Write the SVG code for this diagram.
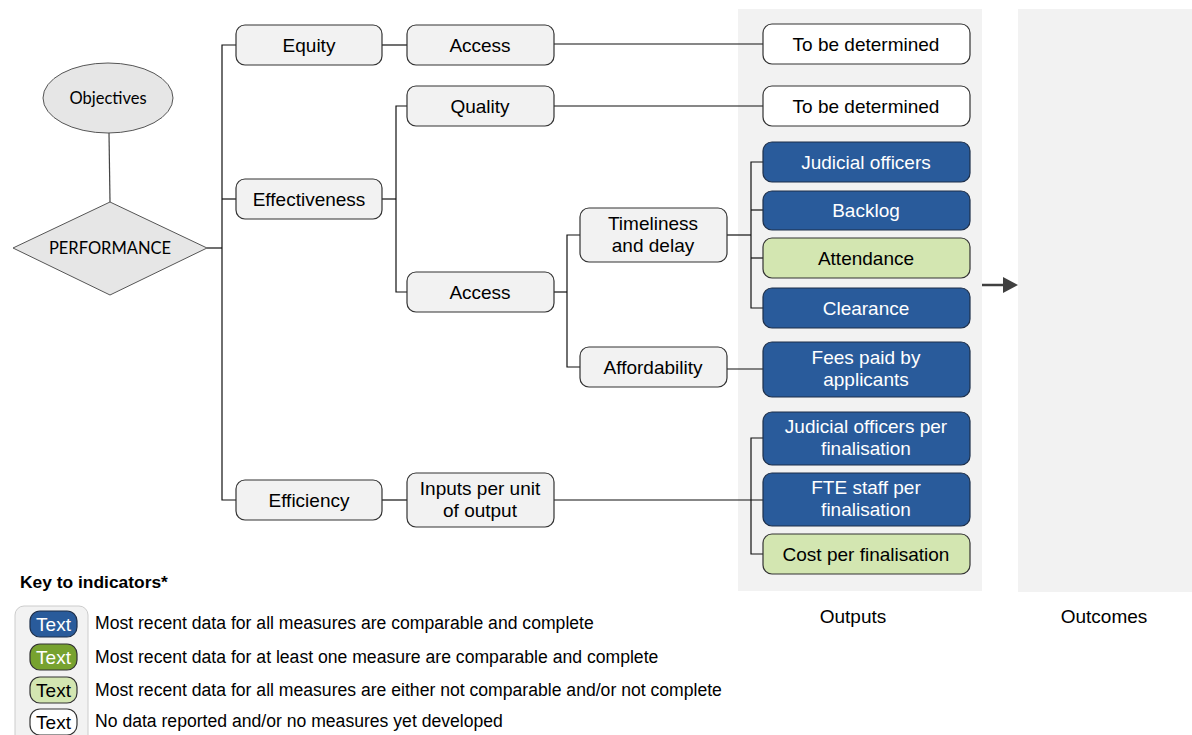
<svg xmlns="http://www.w3.org/2000/svg" width="1192" height="735" viewBox="0 0 1192 735">
<defs>
<style>
.t{font-family:"Liberation Sans",Arial,sans-serif;font-size:19px;text-anchor:middle;fill:#000}
.w{fill:#fff}
.c{font-family:Lato,"Open Sans",sans-serif;font-size:16.5px;text-anchor:middle;fill:#000}
.g{fill:#F2F2F2;stroke:#333;stroke-width:1.2}
.b{fill:#295B9B;stroke:#1d2f4a;stroke-width:1.2}
.lg{fill:#D3E6B1;stroke:#333;stroke-width:1.2}
.dg{fill:#77A22F;stroke:#333;stroke-width:1.2}
.wh{fill:#fff;stroke:#333;stroke-width:1.2}
.conn{fill:none;stroke:#111;stroke-width:1.2}
.k{font-family:"Liberation Sans",Arial,sans-serif;font-size:17.6px;fill:#000}
</style>
</defs>
<rect width="1192" height="735" fill="#fff"/>
<g id="panels">
<rect x="738" y="9" width="244" height="582" fill="#F2F2F2"/>
<rect x="1018" y="9" width="174" height="583" fill="#F2F2F2"/>
<text class="t" x="853" y="623">Outputs</text>
<text class="t" x="1104" y="623">Outcomes</text>
</g>
<g id="connectors" class="conn">
<line x1="109" y1="133" x2="110" y2="202" stroke="#444"/>
<polyline points="207,248 222,248"/>
<polyline points="236,45 222,45 222,500 236,500"/>
<polyline points="222,199 236,199"/>
<line x1="382" y1="45" x2="407" y2="45"/>
<line x1="554" y1="44" x2="763" y2="44"/>
<polyline points="382,199 396,199"/>
<polyline points="407,106 396,106 396,292 407,292"/>
<line x1="554" y1="106" x2="763" y2="106"/>
<line x1="554" y1="292" x2="567" y2="292"/>
<polyline points="580,235 567,235 567,367 580,367"/>
<line x1="727" y1="235" x2="751" y2="235"/>
<polyline points="763,162 751,162 751,308 763,308"/>
<line x1="751" y1="210" x2="763" y2="210"/>
<line x1="751" y1="258" x2="763" y2="258"/>
<line x1="727" y1="369" x2="763" y2="369"/>
<line x1="382" y1="500" x2="407" y2="500"/>
<line x1="554" y1="500" x2="763" y2="500"/>
<polyline points="763,438 751,438 751,554 763,554"/>
<line x1="982" y1="285" x2="1005" y2="285" stroke="#404040" stroke-width="2.5"/>
<polygon points="1003,277 1018,285 1003,293" fill="#404040" stroke="none"/>
</g>
<g id="objectives">
<ellipse cx="108" cy="98" rx="65" ry="35" fill="#E6E6E6" stroke="#555" stroke-width="1"/>
<text class="c" x="108" y="104">Objectives</text>
</g>
<g id="performance">
<polygon points="110,202 207,248 110,295 13,248" fill="#E6E6E6" stroke="#555" stroke-width="1"/>
<text class="c" x="110" y="254">PERFORMANCE</text>
</g>
<g id="equity"><rect class="g" x="236" y="25" width="146" height="40" rx="9"/><text class="t" x="309" y="51.5">Equity</text></g>
<g id="effectiveness"><rect class="g" x="236" y="179" width="146" height="40" rx="9"/><text class="t" x="309" y="205.5">Effectiveness</text></g>
<g id="efficiency"><rect class="g" x="236" y="480" width="146" height="40" rx="9"/><text class="t" x="309" y="506.5">Efficiency</text></g>
<g id="access1"><rect class="g" x="407" y="25" width="147" height="40" rx="9"/><text class="t" x="480" y="51.5">Access</text></g>
<g id="quality"><rect class="g" x="407" y="86" width="147" height="40" rx="9"/><text class="t" x="480" y="112.5">Quality</text></g>
<g id="access2"><rect class="g" x="407" y="272" width="147" height="40" rx="9"/><text class="t" x="480" y="298.5">Access</text></g>
<g id="inputs"><rect class="g" x="407" y="473" width="147" height="54" rx="9"/><text class="t" x="480" y="495">Inputs per unit</text><text class="t" x="480" y="517">of output</text></g>
<g id="timeliness"><rect class="g" x="580" y="208" width="147" height="54" rx="9"/><text class="t" x="653" y="230">Timeliness</text><text class="t" x="653" y="252">and delay</text></g>
<g id="affordability"><rect class="g" x="580" y="347" width="147" height="40" rx="9"/><text class="t" x="653" y="373.5">Affordability</text></g>
<g id="tbd1"><rect class="wh" x="763" y="24" width="207" height="40" rx="9"/><text class="t" x="866" y="50.5">To be determined</text></g>
<g id="tbd2"><rect class="wh" x="763" y="86" width="207" height="40" rx="9"/><text class="t" x="866" y="112.5">To be determined</text></g>
<g id="judicial"><rect class="b" x="763" y="142" width="207" height="40" rx="9"/><text class="t w" x="866" y="168.5">Judicial officers</text></g>
<g id="backlog"><rect class="b" x="763" y="191" width="207" height="39" rx="9"/><text class="t w" x="866" y="217">Backlog</text></g>
<g id="attendance"><rect class="lg" x="763" y="238" width="207" height="40" rx="9"/><text class="t" x="866" y="264.5">Attendance</text></g>
<g id="clearance"><rect class="b" x="763" y="288" width="207" height="40" rx="9"/><text class="t w" x="866" y="314.5">Clearance</text></g>
<g id="fees"><rect class="b" x="763" y="342" width="207" height="55" rx="9"/><text class="t w" x="866" y="364">Fees paid by</text><text class="t w" x="866" y="386">applicants</text></g>
<g id="jofin"><rect class="b" x="763" y="412" width="207" height="53" rx="9"/><text class="t w" x="866" y="433">Judicial officers per</text><text class="t w" x="866" y="455">finalisation</text></g>
<g id="ftefin"><rect class="b" x="763" y="473" width="207" height="53" rx="9"/><text class="t w" x="866" y="494">FTE staff per</text><text class="t w" x="866" y="516">finalisation</text></g>
<g id="costfin"><rect class="lg" x="763" y="534" width="207" height="40" rx="9"/><text class="t" x="866" y="560.5">Cost per finalisation</text></g>
<g id="key">
<text x="20" y="588" font-family="'Liberation Sans',Arial,sans-serif" font-size="17.4" font-weight="bold">Key to indicators*</text>
<rect x="15" y="606" width="73" height="150" rx="9" fill="#F2F2F2" stroke="#ccc" stroke-width="1"/>
<rect class="b" x="30" y="611" width="47" height="26" rx="10"/><text class="t w" x="53.5" y="630.5">Text</text>
<rect class="dg" x="30" y="644" width="47" height="26" rx="10"/><text class="t w" x="53.5" y="663.5">Text</text>
<rect class="lg" x="30" y="677" width="47" height="26" rx="10"/><text class="t" x="53.5" y="696.5">Text</text>
<rect class="wh" x="30" y="709" width="47" height="26" rx="10"/><text class="t" x="53.5" y="728.5">Text</text>
<text class="k" x="95" y="629">Most recent data for all measures are comparable and complete</text>
<text class="k" x="95" y="663">Most recent data for at least one measure are comparable and complete</text>
<text class="k" x="95" y="696">Most recent data for all measures are either not comparable and/or not complete</text>
<text class="k" x="95" y="727">No data reported and/or no measures yet developed</text>
</g>
</svg>
